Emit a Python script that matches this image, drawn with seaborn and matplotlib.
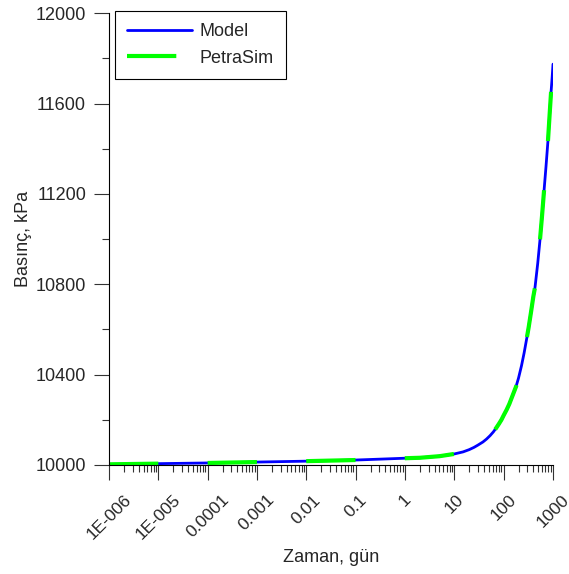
import numpy as np
import pandas as pd
import matplotlib
matplotlib.use("Agg")
import matplotlib.pyplot as plt
import matplotlib.ticker as mticker
import seaborn as sns

# Pressure build-up: analytical model vs. PetraSim simulation
time_days = [1e-6, 1e-5, 1e-4, 1e-3, 1e-2, 1e-1, 1, 2, 5, 10, 15, 20, 25,
             30, 38, 45, 53, 62, 70, 80, 90, 100, 115, 130, 150, 178, 200,
             230, 260, 293, 320, 360, 400, 432, 490, 546, 600, 658, 720,
             793, 850, 912, 960, 1000]
model_kpa = [10003, 10006, 10009, 10013, 10017, 10022, 10030, 10032, 10039,
             10049, 10058, 10068, 10078, 10088, 10102, 10115, 10130, 10147,
             10163, 10182, 10200, 10220, 10245, 10270, 10305, 10347, 10385,
             10440, 10497, 10560, 10608, 10680, 10747, 10787, 10893, 11000,
             11105, 11215, 11320, 11440, 11545, 11650, 11715, 11775]
petrasim_kpa = list(model_kpa)

x_tick_values = [1e-6, 1e-5, 1e-4, 1e-3, 1e-2, 1e-1, 1, 10, 100, 1000]
x_tick_labels = ["1E-006", "1E-005", "0.0001", "0.001", "0.01", "0.1",
                 "1", "10", "100", "1000"]
y_tick_values = [10000, 10400, 10800, 11200, 11600, 12000]

sns.set_style("ticks")
plt.rcParams["font.family"] = ["Liberation Sans", "DejaVu Sans"]
plt.rcParams["lines.scale_dashes"] = False

df = pd.DataFrame({"t": time_days, "model": model_kpa, "sim": petrasim_kpa})

fig = plt.figure(figsize=(5.69, 5.74), dpi=100)
ax = fig.add_axes([0.1916, 0.1899, 0.9719 - 0.1916, 0.9768 - 0.1899])

sns.lineplot(data=df, x="t", y="model", ax=ax, color="#0000ff", lw=2.0,
             label="Model", solid_capstyle="round", solid_joinstyle="round")
sns.lineplot(data=df, x="t", y="sim", ax=ax, color="#00ff00", lw=3.0,
             label="PetraSim")
sim_line = ax.lines[-1]
sim_line.set_dashes((35.5, 35.5))
sim_line.set_dash_capstyle("butt")

ax.set_xscale("log")
ax.set_xlim(1e-6, 1000)
ax.set_ylim(10000, 12000)

ax.set_xticks(x_tick_values)
ax.set_xticklabels(x_tick_labels, rotation=45, fontsize=12.5)
ax.xaxis.set_minor_locator(mticker.LogLocator(base=10, subs=np.arange(2, 10), numticks=100))
ax.xaxis.set_minor_formatter(mticker.NullFormatter())

ax.set_yticks(y_tick_values)
ax.set_yticklabels([str(v) for v in y_tick_values], fontsize=13)
ax.yaxis.set_minor_locator(mticker.MultipleLocator(200))

ax.tick_params(axis="both", which="major", direction="out", length=10.5,
               width=0.8, color="#333333", pad=6)
ax.tick_params(axis="both", which="minor", direction="out", length=5,
               width=0.8, color="#333333")
ax.tick_params(axis="x", which="major", pad=9)

for side in ("top", "right"):
    ax.spines[side].set_visible(False)
for side in ("left", "bottom"):
    ax.spines[side].set_color("black")
    ax.spines[side].set_linewidth(0.8)

ax.set_xlabel("Zaman, gün", fontsize=13, labelpad=5)
ax.set_ylabel("Basınç, kPa", fontsize=13, labelpad=2.5)

leg = ax.legend(loc="upper left", bbox_to_anchor=(115 / 569, 1 - 11 / 574),
                bbox_transform=fig.transFigure, fontsize=13, frameon=True,
                fancybox=False, framealpha=1, edgecolor="black",
                handlelength=3.6, handletextpad=0.38, labelspacing=0.52,
                borderpad=0.68, borderaxespad=0)
leg.get_frame().set_linewidth(0.8)

fig.savefig("out.png", dpi=100, facecolor="white")
